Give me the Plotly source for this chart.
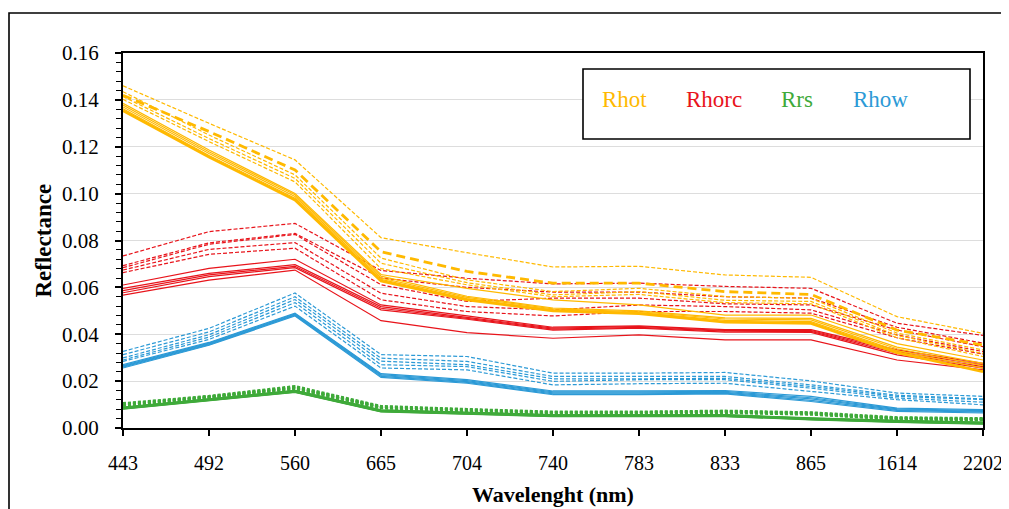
import plotly.graph_objects as go

wavelengths = ["443", "492", "560", "665", "704", "740", "783", "833", "865", "1614", "2202"]

# Rhot (top of atmosphere reflectance)
rhot_solid = [
    [0.1385, 0.1186, 0.1001, 0.0655, 0.0596, 0.0547, 0.0525, 0.0482, 0.0482, 0.0360, 0.0290],
    [0.1378, 0.1179, 0.0995, 0.0648, 0.0562, 0.0512, 0.0500, 0.0470, 0.0468, 0.0345, 0.0276],
    [0.1370, 0.1171, 0.0988, 0.0640, 0.0557, 0.0508, 0.0496, 0.0465, 0.0461, 0.0338, 0.0266],
    [0.1362, 0.1163, 0.0980, 0.0634, 0.0552, 0.0504, 0.0492, 0.0459, 0.0454, 0.0330, 0.0255],
    [0.1354, 0.1156, 0.0973, 0.0627, 0.0547, 0.0500, 0.0488, 0.0452, 0.0446, 0.0322, 0.0240],
]
rhot_dashed = [
    [0.1460, 0.1300, 0.1144, 0.0812, 0.0748, 0.0687, 0.0690, 0.0653, 0.0643, 0.0475, 0.0404],
    [0.1420, 0.1265, 0.1101, 0.0752, 0.0668, 0.0618, 0.0618, 0.0582, 0.0570, 0.0418, 0.0354],
    [0.1435, 0.1250, 0.1080, 0.0725, 0.0632, 0.0582, 0.0596, 0.0561, 0.0553, 0.0405, 0.0333],
    [0.1414, 0.1235, 0.1065, 0.0703, 0.0620, 0.0568, 0.0582, 0.0545, 0.0540, 0.0395, 0.0318],
    [0.1402, 0.1222, 0.1050, 0.0680, 0.0611, 0.0560, 0.0570, 0.0535, 0.0530, 0.0385, 0.0305],
]

# Rhorc (Rayleigh corrected reflectance)
rhorc_solid = [
    [0.0610, 0.0681, 0.0720, 0.0525, 0.0478, 0.0430, 0.0436, 0.0420, 0.0420, 0.0333, 0.0276],
    [0.0596, 0.0660, 0.0697, 0.0518, 0.0472, 0.0426, 0.0433, 0.0416, 0.0416, 0.0326, 0.0269],
    [0.0586, 0.0653, 0.0690, 0.0511, 0.0468, 0.0422, 0.0429, 0.0413, 0.0412, 0.0319, 0.0262],
    [0.0577, 0.0646, 0.0684, 0.0504, 0.0464, 0.0418, 0.0426, 0.0409, 0.0408, 0.0312, 0.0255],
    [0.0567, 0.0631, 0.0674, 0.0458, 0.0407, 0.0383, 0.0397, 0.0376, 0.0376, 0.0290, 0.0248],
]
rhorc_dashed = [
    [0.0734, 0.0838, 0.0873, 0.0672, 0.0639, 0.0615, 0.0618, 0.0604, 0.0596, 0.0447, 0.0395],
    [0.0693, 0.0790, 0.0830, 0.0640, 0.0600, 0.0580, 0.0580, 0.0560, 0.0554, 0.0430, 0.0362],
    [0.0684, 0.0784, 0.0826, 0.0611, 0.0540, 0.0554, 0.0554, 0.0530, 0.0525, 0.0418, 0.0347],
    [0.0674, 0.0762, 0.0791, 0.0575, 0.0518, 0.0504, 0.0525, 0.0518, 0.0504, 0.0397, 0.0326],
    [0.0663, 0.0741, 0.0767, 0.0547, 0.0497, 0.0478, 0.0497, 0.0497, 0.0490, 0.0385, 0.0315],
]

# Rrs (remote sensing reflectance)
rrs_solid = [
    [0.0087, 0.0122, 0.0158, 0.0075, 0.0066, 0.0055, 0.0055, 0.0055, 0.0041, 0.0030, 0.0023],
    [0.0086, 0.0121, 0.0157, 0.0074, 0.0065, 0.0054, 0.0054, 0.0054, 0.0040, 0.0029, 0.0022],
    [0.0085, 0.0120, 0.0156, 0.0073, 0.0064, 0.0053, 0.0053, 0.0053, 0.0039, 0.0028, 0.0021],
    [0.0084, 0.0119, 0.0155, 0.0072, 0.0063, 0.0052, 0.0052, 0.0052, 0.0038, 0.0027, 0.0020],
    [0.0083, 0.0118, 0.0154, 0.0071, 0.0062, 0.0051, 0.0051, 0.0051, 0.0037, 0.0026, 0.0019],
]
rrs_dashed = [
    [0.0105, 0.0136, 0.0178, 0.0093, 0.0080, 0.0069, 0.0069, 0.0073, 0.0066, 0.0045, 0.0041],
    [0.0102, 0.0134, 0.0175, 0.0091, 0.0078, 0.0067, 0.0067, 0.0071, 0.0064, 0.0043, 0.0039],
    [0.0099, 0.0132, 0.0172, 0.0089, 0.0076, 0.0065, 0.0065, 0.0069, 0.0062, 0.0041, 0.0037],
    [0.0097, 0.0130, 0.0169, 0.0087, 0.0074, 0.0063, 0.0063, 0.0067, 0.0060, 0.0039, 0.0035],
    [0.0095, 0.0128, 0.0166, 0.0085, 0.0072, 0.0061, 0.0061, 0.0065, 0.0058, 0.0037, 0.0033],
]

# Rhow (water reflectance)
rhow_solid = [
    [0.0270, 0.0365, 0.0490, 0.0232, 0.0206, 0.0158, 0.0158, 0.0160, 0.0135, 0.0085, 0.0078],
    [0.0266, 0.0362, 0.0487, 0.0228, 0.0202, 0.0154, 0.0154, 0.0156, 0.0129, 0.0082, 0.0074],
    [0.0263, 0.0359, 0.0484, 0.0224, 0.0198, 0.0150, 0.0150, 0.0152, 0.0124, 0.0078, 0.0071],
    [0.0260, 0.0356, 0.0481, 0.0220, 0.0195, 0.0146, 0.0146, 0.0149, 0.0118, 0.0075, 0.0068],
    [0.0256, 0.0353, 0.0478, 0.0216, 0.0191, 0.0142, 0.0142, 0.0146, 0.0113, 0.0071, 0.0064],
]
rhow_dashed = [
    [0.0327, 0.0425, 0.0576, 0.0313, 0.0305, 0.0234, 0.0234, 0.0237, 0.0201, 0.0149, 0.0135],
    [0.0313, 0.0410, 0.0560, 0.0298, 0.0284, 0.0220, 0.0220, 0.0220, 0.0184, 0.0140, 0.0124],
    [0.0299, 0.0398, 0.0548, 0.0285, 0.0270, 0.0210, 0.0210, 0.0212, 0.0177, 0.0135, 0.0121],
    [0.0290, 0.0388, 0.0535, 0.0270, 0.0262, 0.0199, 0.0206, 0.0206, 0.0170, 0.0128, 0.0110],
    [0.0284, 0.0378, 0.0520, 0.0256, 0.0248, 0.0184, 0.0189, 0.0191, 0.0156, 0.0121, 0.0099],
]

series_names = ["Rhot", "Rhorc", "Rrs", "Rhow"]

C_ORANGE = "#FFB900"
C_RED = "#E8141B"
C_GREEN = "#3FAA3A"
C_BLUE = "#2C9AD6"

FONT = "Liberation Serif"

fig = go.Figure()


def add_group(name, color, solid, dashed, solid_styles, dashed_styles):
    for i, ys in enumerate(solid):
        w, d = solid_styles[i]
        fig.add_trace(go.Scatter(x=wavelengths, y=ys, mode="lines", name=name,
                                 line=dict(color=color, width=w, dash=d),
                                 showlegend=False, hoverinfo="skip"))
    for i, ys in enumerate(dashed):
        w, d = dashed_styles[i]
        fig.add_trace(go.Scatter(x=wavelengths, y=ys, mode="lines", name=name,
                                 line=dict(color=color, width=w, dash=d),
                                 showlegend=False, hoverinfo="skip"))


thin_solid = [(1.2, "solid")] * 5
thin_dash = [(1.2, "4px,2px")] * 5

add_group("Rrs", C_GREEN, rrs_solid, rrs_dashed,
          [(2.2, "solid")] * 5, [(2.6, "3px,2px")] * 5)
add_group("Rhow", C_BLUE, rhow_solid, rhow_dashed, thin_solid, thin_dash)
add_group("Rhorc", C_RED, rhorc_solid, rhorc_dashed, thin_solid, thin_dash)
add_group("Rhot", C_ORANGE, rhot_solid, rhot_dashed,
          [(1.2, "solid"), (1.2, "solid"), (1.2, "solid"), (1.2, "solid"), (2.8, "solid")],
          [(1.2, "4px,2px"), (2.8, "9px,5px"), (1.2, "4px,2px"), (1.2, "4px,2px"), (1.2, "4px,2px")])

# page body adds an 8px margin, so the figure is shifted by 8px
fig.update_layout(
    width=1001, height=501,
    margin=dict(l=115, r=26, t=45, b=81, autoexpand=False),
    paper_bgcolor="white", plot_bgcolor="white",
    font=dict(family=FONT, size=21, color="black"),
    showlegend=False,
)

fig.update_xaxes(
    type="category", range=[0, 10], automargin=False,
    showline=True, linecolor="black", linewidth=2, mirror=True,
    ticks="outside", ticklen=6, tickwidth=1.5, tickcolor="black",
    showgrid=False, ticklabelstandoff=10,
    tickfont=dict(family=FONT, size=20),
)
fig.update_yaxes(
    range=[0, 0.16], dtick=0.02, tickformat=".2f", automargin=False,
    showline=True, linecolor="black", linewidth=2, mirror=True,
    ticks="outside", ticklen=6, tickwidth=1.5, tickcolor="black",
    showgrid=True, gridcolor="#DDDDDD", gridwidth=1.2,
    zeroline=False, ticklabelstandoff=12,
    minor=dict(dtick=0.004, ticks="outside", ticklen=5, tickwidth=1.2, tickcolor="black", showgrid=False),
    tickfont=dict(family=FONT, size=21),
)

# axis titles
fig.add_annotation(text="<b>Reflectance</b>", xref="paper", yref="paper",
                   x=(43 - 123) / 860, y=0.5, textangle=-90, showarrow=False,
                   font=dict(family=FONT, size=23), xanchor="center", yanchor="middle")
fig.add_annotation(text="<b>Wavelenght (nm)</b>", xref="paper", yref="paper",
                   x=0.5, y=(428 - 494) / 375, showarrow=False,
                   font=dict(family=FONT, size=22), xanchor="center", yanchor="middle")

# legend box
fig.add_shape(type="rect", xref="paper", yref="paper",
              x0=(583 - 123) / 860, x1=(970 - 123) / 860,
              y0=(428 - 139) / 375, y1=(428 - 69) / 375,
              line=dict(color="black", width=1.6), fillcolor="white", layer="above")
legend_colors = [C_ORANGE, C_RED, C_GREEN, C_BLUE]
legend_centers = [624, 714, 797, 880]
for name, col, cx in zip(series_names, legend_colors, legend_centers):
    fig.add_annotation(text=name, xref="paper", yref="paper",
                       x=(cx - 123) / 860, y=(428 - 99) / 375, showarrow=False,
                       font=dict(family=FONT, size=23, color=col),
                       xanchor="center", yanchor="middle")

# outer chart frame
fig.add_shape(type="rect", xref="paper", yref="paper",
              x0=(9 - 123) / 860, x1=(1030 - 123) / 860,
              y0=(428 - 540) / 375, y1=(428 - 13) / 375,
              line=dict(color="black", width=1.6), fillcolor="rgba(0,0,0,0)", layer="below")

fig.write_html("out.html")
